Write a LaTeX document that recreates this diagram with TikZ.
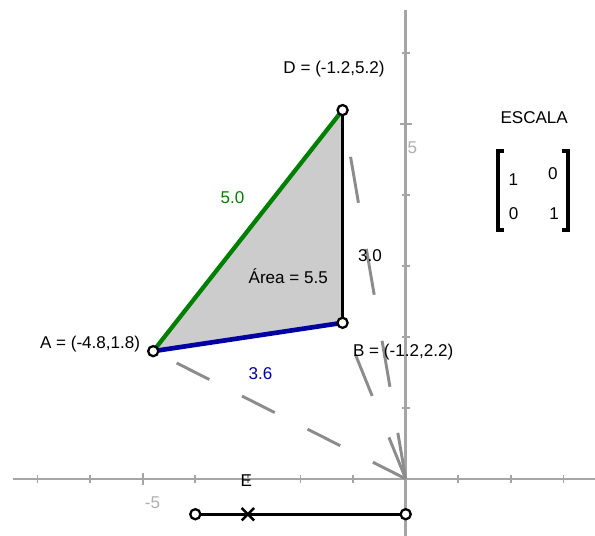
\documentclass[tikz,border=0pt]{standalone}
\usepackage{fontspec}
\setmainfont{Liberation Sans}
\usetikzlibrary{shapes.misc}
\definecolor{axisgray}{RGB}{165,165,165}
\definecolor{dashgray}{RGB}{140,140,140}
\definecolor{labelgray}{RGB}{175,175,175}
\definecolor{fillgray}{RGB}{204,204,204}
\definecolor{segGreen}{RGB}{0,128,0}
\definecolor{segBlue}{RGB}{0,0,165}
\begin{document}
\begin{tikzpicture}[x=39.45pt,y=53.175pt,font=\fontsize{12.8}{15}\selectfont,
            pt/.style={circle,draw,fill=white,line width=1.7pt,minimum size=7.6pt,inner sep=0pt},
            ray/.style={dashgray,line width=2.2pt}]
            \useasboundingbox (-7.713,-0.807) rectangle (3.599,6.753);
            \coordinate (O) at (0,0);
            \coordinate (A) at (-4.8,1.8);
            \coordinate (B) at (-1.2,2.2);
            \coordinate (D) at (-1.2,5.2);
            % ejes
            \draw[axisgray,line width=1.9pt](-7.466,0)--(3.6,0);
            \draw[axisgray,line width=1.9pt](0,6.612)--(0,-0.81);
            \foreach \i in {-7,-6,-4,-3,-2,-1,1,2,3}
                \draw[axisgray,line width=1.4pt](\i,0)++(0,-3pt)--++(0,6pt);
            \foreach \j in {1,2,3,4,6}
                \draw[axisgray,line width=1.4pt](0,\j)++(-3pt,0)--++(6pt,0);
            \draw[axisgray,line width=1.4pt](-5,0)++(0,-4.5pt)--++(0,9pt);
            \draw[axisgray,line width=1.4pt](0,5)++(-4.5pt,0)--++(9pt,0);
            \node[labelgray] (lm5) at (-4.814,-0.341) {-5};
            \node[labelgray] (l5) at (0.129,4.666) {5};
            % triangulo
            \fill[fillgray](A)--(B)--(D)--cycle;
            \draw[ray,dash pattern=on 27.5pt off 27.5pt](O)--(A);
            \draw[ray,dash pattern=on 33.5pt off 33.5pt](O)--(B);
            \draw[ray,dash pattern=on 35pt off 35pt](O)--(D);
            \draw[segGreen,line width=3.2pt](A)--(D);
            \draw[segBlue,line width=3.5pt](A)--(B);
            \draw[black,line width=1.8pt](B)--(D);
            \node[pt] (pA) at (A) {};
            \node[pt] (pB) at (B) {};
            \node[pt] (pD) at (D) {};
            \node (labA) at (-6.0,1.901) {A = (-4.8,1.8)};
            \node (labB) at (-0.048,1.793) {B = (-1.2,2.2)};
            \node (labD) at (-1.363,5.78) {D = (-1.2,5.2)};
            \node[segGreen] (lAD) at (-3.293,3.968) {5.0};
            \node[segBlue] (lAB) at (-2.76,1.481) {3.6};
            \node (lBD) at (-0.679,3.142) {3.0};
            \node (area) at (-2.232,2.86) {Área = 5.5};
            % escala
            \node (esc) at (2.443,5.1) {ESCALA};
            \node (m11) at (2.046,4.226) {1};
            \node (m12) at (2.797,4.299) {0};
            \node (m21) at (2.053,3.745) {0};
            \node (m22) at (2.82,3.745) {1};
            \draw[line width=2.6pt](1.874,4.623)-|(1.759,3.509)--(1.874,3.509);
            \draw[line width=2.6pt](2.973,4.623)-|(3.088,3.509)--(2.973,3.509);
            % deslizador
            \coordinate (S0) at (-4,-0.5);
            \coordinate (S1) at (0,-0.5);
            \draw[line width=2pt](S0)--(S1);
            \node[draw,cross out,line width=1.8pt,minimum size=7.5pt,inner sep=0pt] (Ex) at (-3,-0.5) {};
            \node (labE) at (-3.032,-0.028) {E};
            \node[pt] (pS0) at (S0) {};
            \node[pt] (pS1) at (S1) {};
        \end{tikzpicture}
\end{document}
